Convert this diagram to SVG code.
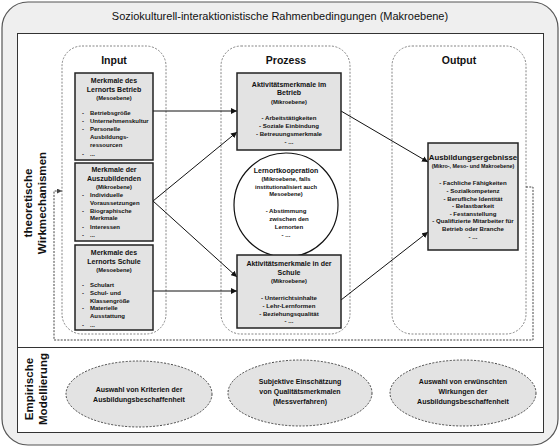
<svg xmlns="http://www.w3.org/2000/svg" width="560" height="448" viewBox="0 0 560 448">
<defs>
<style>
text{font-family:"Liberation Sans",Arial,sans-serif;fill:#111}
.t{font-size:11px;text-anchor:middle}
.col{font-size:10.5px;font-weight:bold;text-anchor:middle}
.side{font-size:11.6px;font-weight:bold;text-anchor:middle}
.h{font-size:7px;font-weight:bold;text-anchor:middle}
.s{font-size:5.8px;font-weight:bold;text-anchor:middle}
.b{font-size:6px;font-weight:bold}
.bc{font-size:6.1px;font-weight:bold;text-anchor:middle}
.oh{font-size:7.8px;font-weight:bold;text-anchor:middle}
.e{font-size:7px;font-weight:bold;text-anchor:middle}
.box{fill:#e3e3e3;stroke:#222;stroke-width:1.5}
.colr{fill:#fff;stroke:#777;stroke-width:0.9;stroke-dasharray:2 1.5}
.ell{fill:#e3e3e3;stroke:#333;stroke-width:0.9;stroke-dasharray:2 1.5}
.ar{fill:none;stroke:#111;stroke-width:1;marker-end:url(#ah)}
.fb{fill:none;stroke:#444;stroke-width:1;stroke-dasharray:2 1.3}
</style>
<marker id="ah" viewBox="0 0 10 10" refX="10" refY="5" markerWidth="6" markerHeight="6" orient="auto" markerUnits="userSpaceOnUse"><path d="M0,0 L10,5 L0,10 z" fill="#111"/></marker>
<marker id="ahs" viewBox="0 0 10 10" refX="10" refY="5" markerWidth="5" markerHeight="5" orient="auto" markerUnits="userSpaceOnUse"><path d="M0,0 L10,5 L0,10 z" fill="#444"/></marker>
</defs>

<g id="frame">
<rect x="2" y="2" width="556" height="443" rx="26" fill="#efefef" stroke="#555" stroke-width="1.2"/>
<text class="t" x="280" y="20">Soziokulturell-interaktionistische Rahmenbedingungen (Makroebene)</text>
<rect x="17.5" y="33.5" width="526" height="314" fill="#fff" stroke="#333" stroke-width="1"/>
<rect x="17.5" y="347.5" width="526" height="85" fill="#fff" stroke="#333" stroke-width="1"/>
<text class="side" transform="translate(32,203) rotate(-90)">theoretische</text>
<text class="side" transform="translate(46,203) rotate(-90)">Wirkmechanismen</text>
<text class="side" transform="translate(33,389) rotate(-90)">Empirische</text>
<text class="side" transform="translate(47,389) rotate(-90)">Modellierung</text>
</g>

<g id="columns">
<rect class="colr" x="62" y="46" width="104" height="288" rx="20"/>
<rect class="colr" x="221" y="46" width="129" height="288" rx="20"/>
<rect class="colr" x="392" y="46" width="134" height="288" rx="20"/>
<text class="col" x="114" y="64">Input</text>
<text class="col" x="286" y="64">Prozess</text>
<text class="col" x="459" y="64">Output</text>
</g>

<g id="connectors">
<line class="ar" x1="153" y1="111" x2="237" y2="111"/>
<line class="ar" x1="153" y1="201" x2="237" y2="132"/>
<line class="ar" x1="153" y1="201" x2="237" y2="277"/>
<line class="ar" x1="153" y1="291" x2="237" y2="291"/>
<line class="ar" x1="341" y1="111" x2="428" y2="162"/>
<line class="ar" x1="341" y1="300" x2="428" y2="232"/>
<polyline class="fb" points="526,187 533,187 533,340 54,340 54,191 62,191" marker-end="url(#ahs)"/>
</g>

<g id="input-betrieb">
<rect class="box" x="75" y="73" width="78" height="87"/>
<text class="h" x="114" y="83">Merkmale des</text>
<text class="h" x="114" y="91.5">Lernorts Betrieb</text>
<text class="s" x="114" y="99.5">(Mesoebene)</text>
<text class="b" x="82" y="115">-</text><text class="b" x="90" y="115">Betriebsgröße</text>
<text class="b" x="82" y="123">-</text><text class="b" x="90" y="123">Unternehmenskultur</text>
<text class="b" x="82" y="131">-</text><text class="b" x="90" y="131">Personelle</text>
<text class="b" x="90" y="138.5">Ausbildungs-</text>
<text class="b" x="90" y="146.5">ressourcen</text>
<text class="b" x="82" y="156">-</text><text class="b" x="90" y="156">...</text>
</g>

<g id="input-azubi">
<rect class="box" x="75" y="163" width="78" height="78"/>
<text class="h" x="114" y="172">Merkmale der</text>
<text class="h" x="114" y="180.5">Auszubildenden</text>
<text class="s" x="114" y="188.5">(Mikroebene)</text>
<text class="b" x="82" y="196.5">-</text><text class="b" x="90" y="196.5">Individuelle</text>
<text class="b" x="90" y="204.5">Voraussetzungen</text>
<text class="b" x="82" y="212.5">-</text><text class="b" x="90" y="212.5">Biographische</text>
<text class="b" x="90" y="219.5">Merkmale</text>
<text class="b" x="82" y="228.5">-</text><text class="b" x="90" y="228.5">Interessen</text>
<text class="b" x="82" y="237">-</text><text class="b" x="90" y="237">...</text>
</g>

<g id="input-schule">
<rect class="box" x="75" y="245" width="78" height="85"/>
<text class="h" x="114" y="254.5">Merkmale des</text>
<text class="h" x="114" y="263.5">Lernorts Schule</text>
<text class="s" x="114" y="271.5">(Mesoebene)</text>
<text class="b" x="82" y="286.5">-</text><text class="b" x="90" y="286.5">Schulart</text>
<text class="b" x="82" y="294.5">-</text><text class="b" x="90" y="294.5">Schul- und</text>
<text class="b" x="90" y="302.5">Klassengröße</text>
<text class="b" x="82" y="309.5">-</text><text class="b" x="90" y="309.5">Materielle</text>
<text class="b" x="90" y="317.5">Ausstattung</text>
<text class="b" x="82" y="326.5">-</text><text class="b" x="90" y="326.5">...</text>
</g>

<g id="prozess-betrieb">
<rect class="box" x="237" y="73" width="104" height="77"/>
<text class="h" x="289" y="86.5">Aktivitätsmerkmale im</text>
<text class="h" x="289" y="94.5">Betrieb</text>
<text class="s" x="289" y="104">(Mikroebene)</text>
<text class="bc" x="289" y="119.5">-   Arbeitstätigkeiten</text>
<text class="bc" x="289" y="127.5">-  Soziale Einbindung</text>
<text class="bc" x="289" y="135.5">-  Betreuungsmerkmale</text>
<text class="bc" x="289" y="144">-  ...</text>
</g>

<g id="lernortkooperation">
<circle cx="286" cy="205" r="52" fill="#fff" stroke="#111" stroke-width="1.2"/>
<text class="h" x="286" y="172.5">Lernortkooperation</text>
<text class="s" x="286" y="180.5">(Mikroebene, falls</text>
<text class="s" x="286" y="188.5">institutionalisiert auch</text>
<text class="s" x="286" y="195.5">Mesoebene)</text>
<text class="bc" x="286" y="212.5">-   Abstimmung</text>
<text class="bc" x="289" y="220.5">zwischen den</text>
<text class="bc" x="289" y="228.5">Lernorten</text>
<text class="bc" x="286" y="237">-  ...</text>
</g>

<g id="prozess-schule">
<rect class="box" x="237" y="255" width="104" height="73"/>
<text class="h" x="289" y="265.5">Aktivitätsmerkmale in der</text>
<text class="h" x="289" y="274.5">Schule</text>
<text class="s" x="289" y="282.5">(Mikroebene)</text>
<text class="bc" x="289" y="299.5">-  Unterrichtsinhalte</text>
<text class="bc" x="289" y="307.5">-  Lehr-Lernformen</text>
<text class="bc" x="289" y="315.5">-  Beziehungsqualität</text>
<text class="bc" x="289" y="323">-  ...</text>
</g>

<g id="output-ergebnisse">
<rect class="box" x="428" y="143" width="90" height="107"/>
<text class="oh" x="473" y="159.5">Ausbildungsergebnisse</text>
<text class="s" x="473" y="168" style="font-size:5.4px">(Mikro-, Meso- und Makroebene)</text>
<text class="bc" x="473" y="185">-  Fachliche Fähigkeiten</text>
<text class="bc" x="473" y="193">-  Sozialkompetenz</text>
<text class="bc" x="473" y="200.5">-  Berufliche Identität</text>
<text class="bc" x="473" y="208">-  Belastbarkeit</text>
<text class="bc" x="473" y="215.5">-  Festanstellung</text>
<text class="bc" x="473" y="223">-  Qualifizierte Mitarbeiter für</text>
<text class="bc" x="473" y="231">Betrieb oder Branche</text>
<text class="bc" x="473" y="239">-  ...</text>
</g>

<g id="empirie-kriterien">
<ellipse class="ell" cx="139" cy="394" rx="73" ry="33"/>
<text class="e" x="139" y="392">Auswahl von Kriterien der</text>
<text class="e" x="139" y="402">Ausbildungsbeschaffenheit</text>
</g>
<g id="empirie-einschaetzung">
<ellipse class="ell" cx="300" cy="393" rx="72" ry="33"/>
<text class="e" x="300" y="384">Subjektive Einschätzung</text>
<text class="e" x="300" y="394">von Qualitätsmerkmalen</text>
<text class="e" x="300" y="404">(Messverfahren)</text>
</g>
<g id="empirie-wirkungen">
<ellipse class="ell" cx="463" cy="393" rx="73" ry="33"/>
<text class="e" x="463" y="384">Auswahl von erwünschten</text>
<text class="e" x="463" y="394">Wirkungen der</text>
<text class="e" x="463" y="404">Ausbildungsbeschaffenheit</text>
</g>
</svg>
